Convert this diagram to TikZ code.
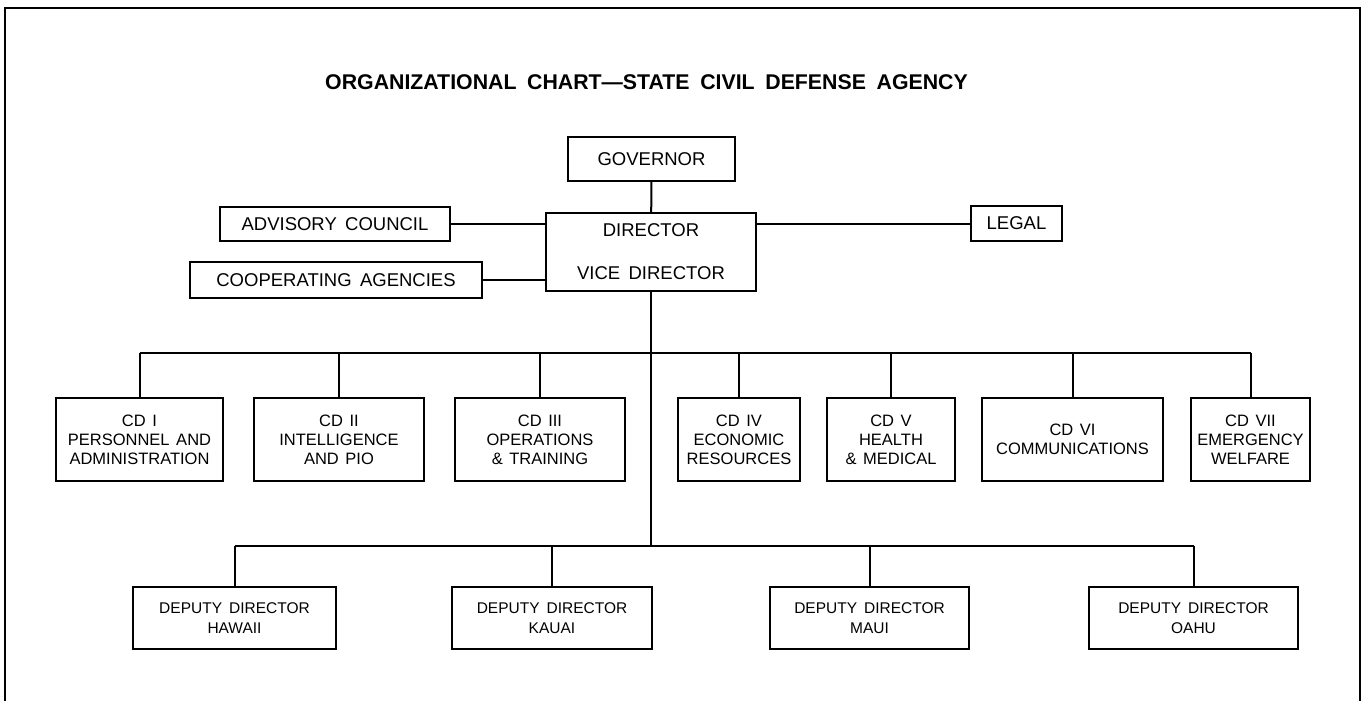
\documentclass[tikz,border=0pt]{standalone}
\usepackage{fontspec}
\setmainfont{Liberation Sans}

\begin{document}
\begin{tikzpicture}[x=1pt,y=-1pt,line width=2pt,
          chartbox/.style={draw,rectangle,inner sep=0pt,align=center,font={\fontsize{18.5}{21}\selectfont\spaceskip=0.45em\relax}},
          cdbox/.style={chartbox,minimum height=83,font={\fontsize{16.5}{19}\selectfont\spaceskip=0.4em\relax}},
          depbox/.style={chartbox,minimum height=62,font={\fontsize{15.5}{20}\selectfont\spaceskip=0.45em\relax}}]
          \useasboundingbox (0,0) rectangle (1365,701);
          \draw (5,701) -- (5,8) -- (1360,8) -- (1360,701);
          \node (title) at (646.5,82) {\fontsize{21.3}{24}\selectfont\bfseries\spaceskip=0.5em\relax ORGANIZATIONAL CHART—STATE CIVIL DEFENSE AGENCY};
          \node[chartbox,minimum width=167,minimum height=44] (gov) at (651.5,159) {GOVERNOR};
          \node[chartbox,minimum width=210,minimum height=78] (dir) at (651,252) {DIRECTOR\\[22pt]VICE DIRECTOR};
          \node[chartbox,minimum width=230,minimum height=34] (adv) at (335,224) {ADVISORY COUNCIL};
          \node[chartbox,minimum width=292,minimum height=36] (coop) at (336,280) {COOPERATING AGENCIES};
          \node[chartbox,minimum width=91,minimum height=35] (legal) at (1016.5,223.5) {LEGAL};
          \node[cdbox,minimum width=167] (cd1) at (139.5,439.5) {CD I\\PERSONNEL AND\\ADMINISTRATION};
          \node[cdbox,minimum width=170] (cd2) at (339,439.5) {CD II\\INTELLIGENCE\\AND PIO};
          \node[cdbox,minimum width=170] (cd3) at (540,439.5) {CD III\\OPERATIONS\\\& TRAINING};
          \node[cdbox,minimum width=122] (cd4) at (739,439.5) {CD IV\\ECONOMIC\\RESOURCES};
          \node[cdbox,minimum width=128] (cd5) at (891,439.5) {CD V\\HEALTH\\\& MEDICAL};
          \node[cdbox,minimum width=181] (cd6) at (1072.5,439.5) {CD VI\\COMMUNICATIONS};
          \node[cdbox,minimum width=119] (cd7) at (1250.5,439.5) {CD VII\\EMERGENCY\\WELFARE};
          \node[depbox,minimum width=203] (hawaii) at (234.5,618) {DEPUTY DIRECTOR\\HAWAII};
          \node[depbox,minimum width=200] (kauai) at (552,618) {DEPUTY DIRECTOR\\KAUAI};
          \node[depbox,minimum width=199] (maui) at (869.5,618) {DEPUTY DIRECTOR\\MAUI};
          \node[depbox,minimum width=209] (oahu) at (1193.5,618) {DEPUTY DIRECTOR\\OAHU};
          \coordinate (cdbus) at (651,353);
          \coordinate (depbus) at (651,546);
          \draw (gov) -- (dir);
          \draw (adv) -- (adv -| dir.west);
          \draw (coop) -- (coop -| dir.west);
          \draw (dir.east |- legal) -- (legal);
          \draw (dir) -- (depbus);
          \draw (cd1 |- cdbus) -- (cd7 |- cdbus);
          \foreach \n in {cd1,cd2,cd3,cd4,cd5,cd6,cd7}
            \draw (\n) -- (\n |- cdbus);
          \draw (hawaii |- depbus) -- (oahu |- depbus);
          \foreach \n in {hawaii,kauai,maui,oahu}
            \draw (\n) -- (\n |- depbus);
        \end{tikzpicture}
\end{document}
